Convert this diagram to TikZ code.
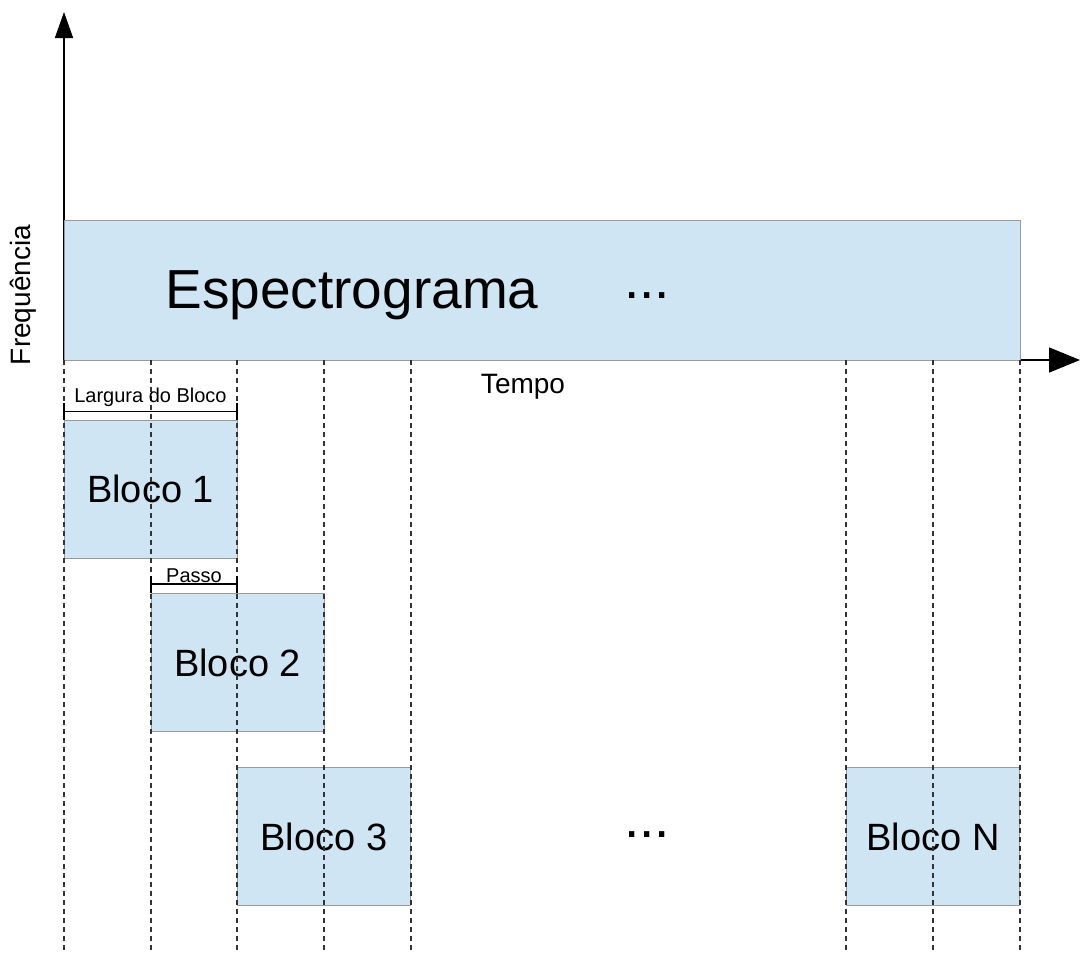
\documentclass[tikz,border=0pt]{standalone}
\usepackage{fontspec}
\setmainfont{Liberation Sans}
\usetikzlibrary{arrows.meta}
\definecolor{blockfill}{HTML}{CFE5F3}
\definecolor{blockedge}{HTML}{9A9A9A}
\definecolor{guide}{HTML}{333333}
\tikzset{
  axis/.style={line width=1.5pt, black},
  spanbox/.style={draw=blockedge, fill=blockfill, line width=1.3pt,
    inner sep=0pt, anchor=north west},
  blockbox/.style={spanbox, minimum width=173pt, minimum height=138pt},
  blocklabel/.style={font=\fontsize{38}{42}\selectfont, inner sep=0pt, anchor=base},
  guideline/.style={guide, line width=1.3pt, dash pattern=on 5pt off 4pt},
  bracket/.style={line width=1.5pt, black},
  smalllabel/.style={font=\fontsize{20}{22}\selectfont, inner sep=0pt},
  axislabel/.style={font=\fontsize{28}{30}\selectfont, inner sep=0pt},
  bigtext/.style={font=\fontsize{55}{60}\selectfont, inner sep=0pt, anchor=base},
}
\begin{document}
\begin{tikzpicture}[x=1pt, y=-1pt]
\useasboundingbox (0,0) rectangle (1081,956);

% axes
\coordinate (o) at (64,360);
\coordinate (ytip) at (64,12);
\coordinate (xtip) at (1080,360);
\draw[axis, -{Triangle[width=18pt, length=26pt]}] (o) -- (ytip);
\draw[axis, -{Triangle[width=25pt, length=31pt]}] (o) -- (xtip);
\node[axislabel, rotate=90] (freq) at (23,295) {Frequência};
\node[axislabel, anchor=base] (tempo) at (523,393) {Tempo};

% spectrogram strip
\node[spanbox, minimum width=956pt, minimum height=140pt] (spec) at (64,220) {};
\node[bigtext] (spectext) at (352,308) {Espectrograma};
\node[bigtext] (specdots) at (647,298) {...};

% analysis blocks
\node[blockbox] (b1) at (64,420) {};
\node[blockbox] (b2) at (151,593) {};
\node[blockbox] (b3) at (237,767) {};
\node[blockbox] (bn) at (846,767) {};
\node[blocklabel] (t1) at (150.5,502) {Bloco 1};
\node[blocklabel] (t2) at (237.5,676) {Bloco 2};
\node[blocklabel] (t3) at (324,850) {Bloco 3};
\node[blocklabel] (tn) at (933,850) {Bloco N};
\node[bigtext] (blockdots) at (647,837) {...};

% dashed time guides
\foreach \gx [count=\i] in {64,151,237,324,411,846,933,1020} {
  \coordinate (gt\i) at (\gx,360);
  \coordinate (gb\i) at (\gx,950);
  \draw[guideline] (gt\i) -- (gb\i);
}

% block width bracket
\coordinate (wl) at (64,411.5);
\coordinate (wr) at (237,411.5);
\draw[bracket] (wl) -- (wr);
\draw[bracket] ([yshift=-8.5pt]wl) -- ([yshift=8.5pt]wl);
\draw[bracket] ([yshift=-8.5pt]wr) -- ([yshift=8.5pt]wr);
\node[smalllabel] (wlabel) at (150.5,397) {Largura do Bloco};

% hop size bracket
\coordinate (pl) at (151,584);
\coordinate (pr) at (237,584);
\draw[bracket] (pl) -- (pr);
\draw[bracket] ([yshift=-8.5pt]pl) -- ([yshift=8.5pt]pl);
\draw[bracket] ([yshift=-8.5pt]pr) -- ([yshift=8.5pt]pr);
\node[smalllabel] (plabel) at (194,576) {Passo};
\end{tikzpicture}
\end{document}
